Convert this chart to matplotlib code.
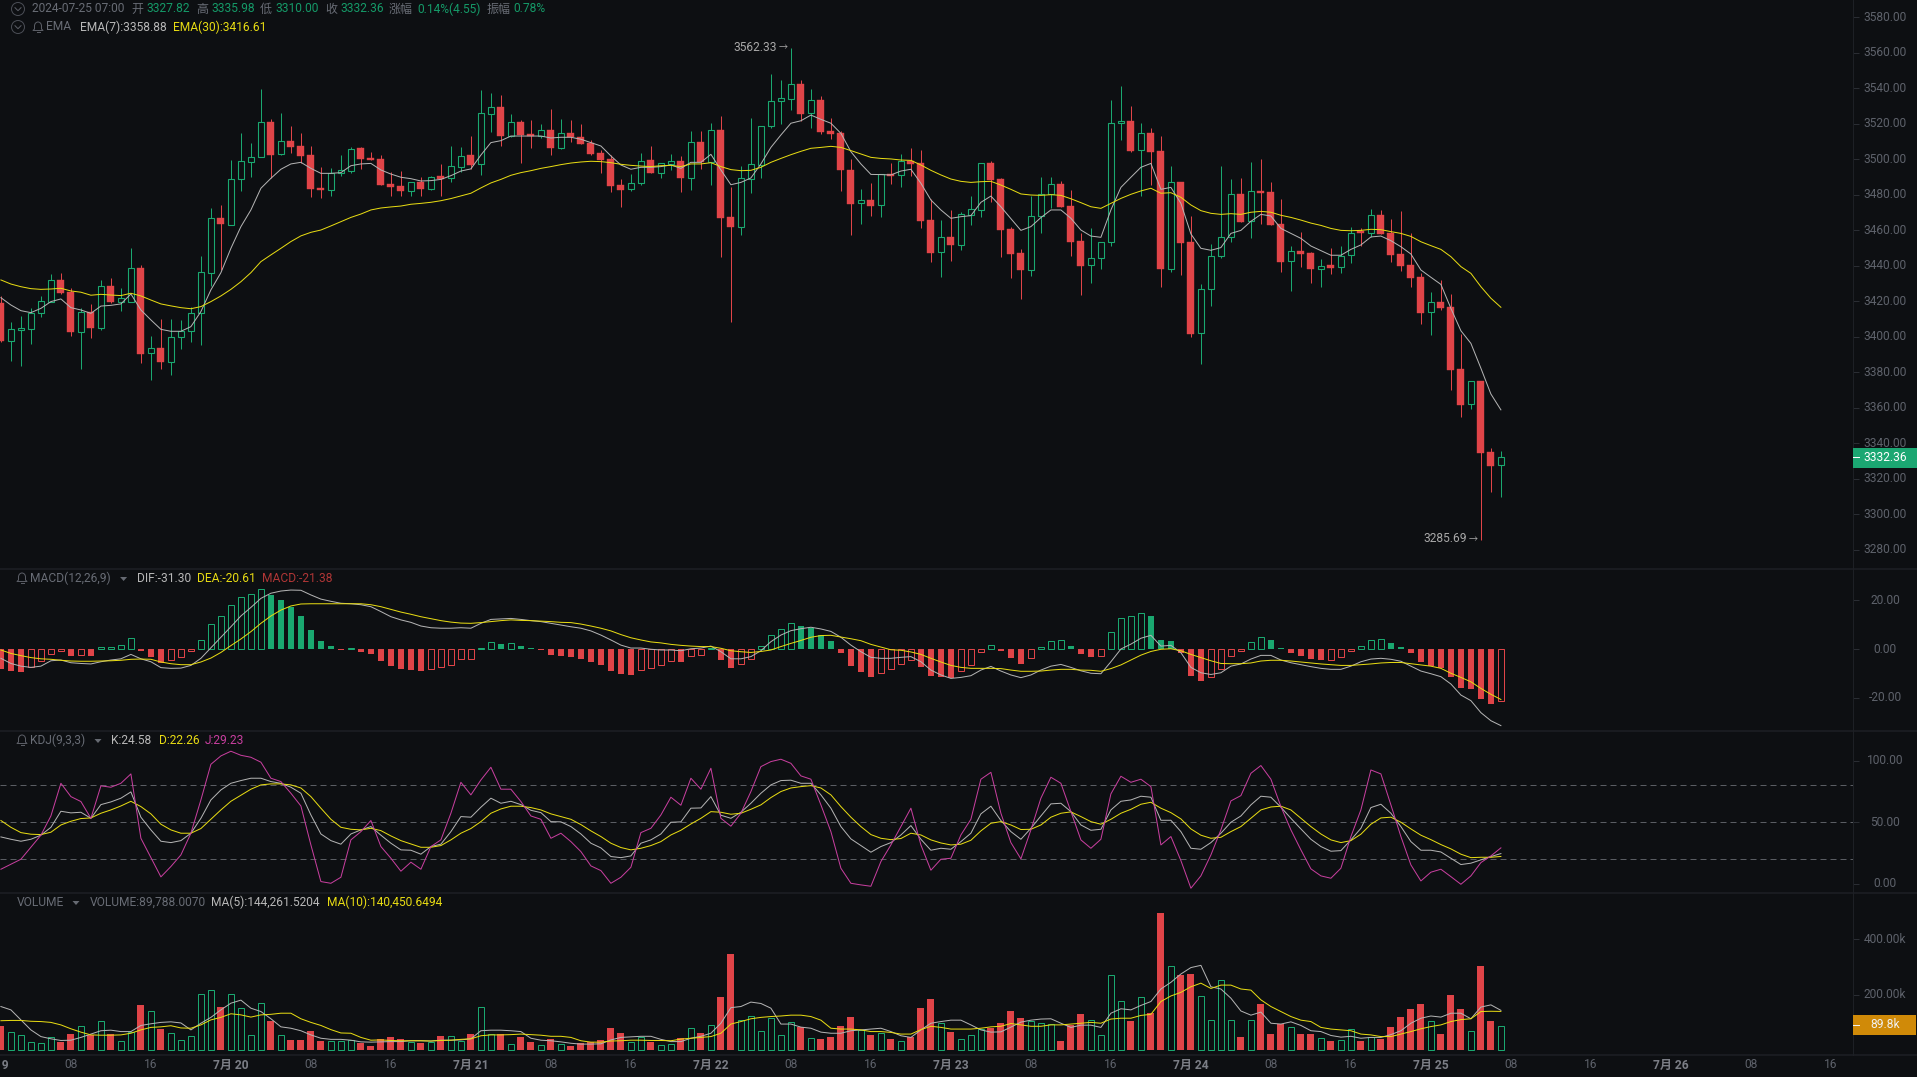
import matplotlib
matplotlib.use("Agg")
import matplotlib.pyplot as plt
from matplotlib.patches import Circle, Rectangle, Polygon, Arc
from matplotlib.transforms import ScaledTranslation
import numpy as np

plt.rcParams['font.family'] = ['Roboto', 'Noto Sans CJK SC', 'DejaVu Sans']

open_ = [3419.2,3397.8,3404.0,3404.2,3413.2,3419.8,3432.0,3425.4,3402.9,3413.8,
3405.2,3428.6,3419.8,3419.8,3438.7,3390.7,3393.5,3386.0,3399.7,3403.1,
3413.2,3436.1,3466.9,3463.1,3488.6,3498.6,3501.0,3520.9,3502.7,3510.2,
3507.4,3502.3,3483.6,3482.8,3492.0,3493.5,3506.3,3500.5,3500.1,3486.0,
3484.9,3482.3,3487.3,3483.4,3490.5,3489.2,3495.8,3502.3,3497.1,3525.6,
3529.3,3513.2,3520.9,3514.2,3512.8,3516.4,3506.5,3514.5,3512.5,3508.9,
3503.5,3499.9,3485.3,3483.0,3486.4,3499.5,3492.4,3497.4,3498.9,3489.6,
3509.6,3498.6,3516.4,3467.4,3462.0,3489.0,3496.9,3518.8,3532.5,3534.0,
3542.3,3525.8,3533.3,3515.8,3514.7,3493.9,3475.1,3477.0,3474.0,3491.6,
3490.9,3499.1,3497.6,3465.7,3447.5,3456.2,3451.9,3468.7,3471.6,3497.8,
3488.8,3460.7,3447.2,3437.8,3467.8,3480.2,3486.0,3473.6,3453.9,3440.2,
3444.2,3453.2,3520.2,3521.5,3505.0,3514.7,3504.6,3438.4,3487.1,3453.4,
3402.0,3426.7,3445.3,3456.0,3480.4,3465.0,3482.1,3481.5,3463.5,3442.5,
3448.3,3447.2,3438.4,3440.4,3439.1,3445.9,3459.5,3458.6,3468.5,3458.4,
3446.6,3440.4,3433.7,3413.8,3419.6,3416.8,3381.9,3362.0,3375.1,3335.2,3327.82]
close = [3397.8,3404.2,3404.8,3413.6,3420.0,3431.8,3424.5,3402.9,3413.8,3405.0,
3428.4,3419.6,3422.0,3438.6,3390.3,3393.5,3385.8,3399.7,3403.3,3413.2,
3436.3,3466.7,3463.7,3488.6,3498.8,3501.0,3520.7,3502.5,3510.0,3507.0,
3502.0,3483.2,3482.8,3492.2,3493.7,3505.9,3500.1,3499.7,3485.5,3484.5,
3482.1,3487.0,3483.2,3490.1,3488.6,3496.0,3501.6,3496.7,3525.8,3529.2,
3513.2,3520.7,3513.6,3512.8,3516.2,3506.5,3514.5,3512.3,3508.7,3502.9,
3499.5,3485.1,3482.6,3486.4,3499.1,3492.2,3497.6,3498.8,3489.4,3509.4,
3498.2,3516.2,3466.9,3461.8,3489.2,3497.1,3518.8,3532.5,3534.2,3542.1,
3525.6,3533.1,3515.5,3514.1,3494.1,3474.9,3476.8,3473.8,3491.4,3490.7,
3498.8,3497.4,3465.2,3447.4,3456.0,3451.7,3468.9,3471.7,3497.6,3488.4,
3460.3,3446.8,3437.6,3467.8,3480.2,3485.8,3473.1,3453.5,3440.0,3444.2,
3453.2,3520.2,3521.3,3504.8,3514.5,3504.2,3438.4,3487.0,3453.0,3401.8,
3426.7,3445.3,3456.0,3480.2,3464.8,3481.9,3481.0,3463.1,3442.3,3448.1,
3446.8,3438.4,3440.0,3438.9,3445.7,3458.6,3458.4,3468.4,3458.1,3446.0,
3440.0,3433.1,3413.6,3419.4,3416.2,3381.5,3361.6,3374.9,3334.8,3327.3,3332.36]
high = [3423.0,3408.5,3411.7,3416.0,3423.0,3435.4,3436.1,3427.3,3416.0,3418.5,
3432.0,3432.9,3427.3,3449.8,3440.2,3400.5,3410.0,3409.8,3409.5,3416.6,
3445.5,3472.3,3474.2,3499.5,3514.7,3508.9,3539.7,3522.4,3525.8,3518.7,
3514.7,3507.4,3495.8,3494.8,3502.3,3507.0,3507.0,3504.0,3502.5,3492.8,
3493.5,3487.3,3489.8,3490.5,3497.3,3507.4,3506.6,3513.0,3538.9,3537.0,
3536.1,3525.4,3522.0,3522.0,3519.8,3528.4,3522.4,3522.0,3519.8,3510.8,
3505.2,3502.3,3488.6,3491.6,3503.3,3507.2,3497.6,3502.9,3501.8,3515.8,
3515.8,3520.2,3524.3,3484.5,3496.1,3523.0,3518.8,3548.1,3544.5,3562.33,
3544.5,3539.3,3535.5,3523.0,3515.8,3500.1,3483.4,3486.8,3491.4,3498.0,
3502.9,3506.3,3505.2,3477.4,3465.7,3471.4,3470.4,3479.2,3497.6,3499.0,
3489.2,3461.6,3449.4,3479.4,3489.8,3490.1,3487.7,3482.6,3458.6,3461.0,
3453.2,3533.3,3541.2,3529.9,3520.5,3517.3,3513.0,3496.1,3487.1,3468.2,
3429.5,3452.2,3496.1,3488.8,3489.4,3498.2,3500.1,3486.9,3477.4,3451.1,
3459.2,3447.9,3443.8,3450.0,3450.9,3461.8,3461.2,3471.7,3471.4,3466.1,
3471.0,3458.2,3436.1,3425.2,3432.0,3424.1,3401.4,3375.3,3375.1,3337.4,3335.98]
low = [3397.3,3386.6,3383.6,3396.0,3411.3,3419.8,3424.1,3400.5,3381.9,3399.5,
3403.8,3419.2,3414.7,3419.8,3385.1,3375.7,3381.9,3378.5,3393.2,3397.3,
3395.4,3428.6,3437.6,3463.1,3482.3,3490.1,3501.0,3489.2,3502.5,3503.5,
3497.6,3478.5,3478.3,3479.3,3490.5,3492.0,3494.5,3499.5,3485.3,3479.4,
3479.3,3479.3,3479.4,3482.6,3479.3,3487.3,3493.0,3494.3,3491.1,3515.5,
3507.4,3512.6,3497.6,3506.5,3511.7,3502.3,3505.9,3509.8,3508.3,3502.3,
3492.4,3481.7,3472.9,3481.9,3485.3,3492.2,3489.2,3493.9,3481.3,3482.6,
3494.3,3485.2,3445.1,3408.5,3457.3,3481.1,3489.2,3517.3,3519.8,3527.7,
3521.7,3517.7,3513.9,3511.1,3482.3,3457.5,3463.3,3468.2,3467.2,3486.0,
3484.5,3490.5,3461.3,3442.3,3433.5,3442.9,3448.9,3462.7,3467.2,3475.9,
3445.1,3433.3,3421.5,3434.4,3458.2,3472.3,3473.1,3445.5,3423.5,3430.5,
3438.4,3451.3,3510.8,3504.2,3479.4,3485.2,3428.0,3436.3,3434.8,3400.1,
3384.7,3417.3,3444.2,3453.4,3464.4,3455.8,3463.3,3462.9,3436.5,3426.0,
3439.1,3430.5,3428.2,3435.5,3435.7,3441.5,3451.3,3456.4,3457.9,3442.1,
3437.2,3428.0,3407.2,3401.0,3415.1,3370.1,3355.0,3359.4,3285.69,3312.5,3310.00]
ema7 = [3422.0,3417.9,3414.7,3413.6,3416.0,3419.8,3421.3,3416.4,3415.1,3413.2,
3417.3,3417.7,3418.5,3424.1,3415.1,3409.5,3404.2,3403.1,3403.1,3405.7,
3414.2,3426.4,3436.1,3449.8,3462.0,3471.4,3483.6,3489.2,3494.3,3497.3,
3498.2,3494.8,3492.0,3492.0,3492.4,3496.3,3497.3,3497.6,3493.9,3491.6,
3489.8,3489.0,3487.7,3487.9,3488.6,3490.7,3493.3,3494.5,3502.3,3509.3,
3510.4,3513.0,3513.0,3513.0,3513.0,3511.9,3512.3,3512.3,3511.2,3509.3,
3507.4,3501.8,3496.7,3494.3,3495.4,3495.4,3495.8,3496.7,3494.8,3498.2,
3498.2,3502.7,3493.9,3485.6,3486.9,3489.4,3497.3,3506.6,3513.6,3520.2,
3521.6,3524.8,3522.4,3520.2,3514.5,3504.2,3497.3,3491.4,3491.3,3491.1,
3493.3,3494.3,3486.4,3477.0,3471.4,3466.7,3467.6,3468.2,3475.7,3479.2,
3473.2,3466.5,3459.9,3462.0,3467.1,3471.4,3471.4,3466.7,3460.1,3456.7,
3456.0,3471.4,3484.1,3489.8,3495.4,3497.6,3483.0,3484.1,3475.1,3457.9,
3449.8,3448.7,3450.2,3458.2,3459.9,3465.0,3468.9,3468.0,3461.0,3458.2,
3455.4,3451.1,3448.5,3445.9,3445.9,3449.2,3451.7,3456.2,3456.7,3454.1,
3450.7,3446.6,3437.6,3433.5,3429.5,3416.0,3403.4,3396.3,3382.3,3367.8,3358.88]
ema30 = [3432.0,3429.7,3428.2,3427.1,3426.7,3426.9,3427.3,3425.8,3425.1,3423.4,
3423.9,3423.5,3423.2,3424.5,3423.0,3420.7,3418.5,3417.4,3416.4,3415.8,
3417.0,3419.8,3423.0,3426.7,3431.0,3436.1,3442.3,3446.1,3449.8,3453.6,
3456.8,3458.8,3460.1,3462.4,3464.8,3467.2,3469.1,3471.4,3472.5,3473.1,
3473.6,3474.6,3475.1,3475.7,3476.6,3477.8,3479.3,3480.8,3483.8,3486.6,
3488.6,3490.9,3492.4,3493.5,3494.8,3495.8,3496.9,3497.8,3498.4,3498.8,
3498.6,3498.0,3497.1,3496.5,3496.1,3495.8,3496.3,3496.5,3495.8,3497.3,
3497.3,3498.0,3495.8,3494.1,3493.5,3493.7,3495.4,3498.2,3500.4,3502.5,
3504.4,3506.1,3506.6,3507.2,3506.6,3504.8,3502.9,3501.0,3500.4,3500.1,
3499.5,3499.3,3496.7,3493.7,3491.1,3488.8,3487.5,3486.9,3487.3,3487.5,
3485.4,3483.0,3480.4,3479.8,3479.6,3480.0,3479.6,3477.7,3475.5,3473.2,
3472.3,3475.1,3477.9,3480.2,3482.1,3483.6,3480.8,3481.1,3478.5,3474.2,
3471.0,3469.5,3468.9,3469.3,3468.9,3470.1,3470.6,3470.1,3468.4,3467.2,
3465.7,3464.0,3462.7,3461.0,3459.9,3459.7,3459.9,3460.5,3460.3,3459.2,
3458.2,3456.5,3453.5,3451.3,3449.2,3445.1,3439.5,3435.7,3428.2,3421.7,3416.61]
macd = [-8.2,-8.9,-9.4,-7.5,-5.0,-1.9,-0.7,-2.9,-2.3,-2.9,
0.7,0.7,1.5,4.4,-0.7,-3.1,-5.6,-4.6,-3.4,-1.0,
3.5,10.1,13.4,17.9,21.1,22.4,24.4,22.1,20.0,17.0,
13.5,7.8,3.3,1.2,-0.5,0.5,-1.1,-1.9,-4.9,-7.0,
-8.2,-8.6,-8.9,-8.2,-7.5,-6.5,-4.2,-4.0,0.3,2.7,
2.0,2.3,1.2,0.3,-0.6,-2.5,-2.9,-3.3,-4.2,-5.3,
-6.5,-9.0,-10.2,-10.6,-8.5,-7.9,-6.7,-4.9,-5.2,-2.9,
-2.3,0.3,-4.5,-7.8,-6.0,-4.2,1.2,5.6,8.0,10.5,
9.4,8.6,5.7,3.3,-1.6,-6.8,-9.4,-11.4,-9.7,-8.0,
-6.0,-4.5,-7.2,-11.0,-11.4,-12.0,-8.9,-6.4,-1.1,1.5,
-0.8,-3.7,-6.1,-3.5,0.7,3.1,3.5,1.1,-2.0,-3.3,
-2.7,6.8,12.5,13.4,14.6,13.5,3.7,3.3,-1.5,-11.0,
-13.1,-11.3,-8.2,-2.7,-0.8,2.7,4.8,3.7,0.4,-1.6,
-2.9,-4.1,-4.5,-4.5,-3.4,-0.8,1.1,3.5,4.0,2.5,
0.7,-1.6,-5.3,-6.8,-7.6,-11.4,-15.9,-16.4,-20.4,-22.5,-21.38]
dif = [-3.8,-5.9,-7.0,-7.5,-7.0,-4.8,-4.5,-5.6,-5.9,-6.1,
-5.2,-4.5,-4.0,-2.2,-4.0,-5.2,-7.6,-7.9,-7.8,-6.7,
-3.8,0.5,4.8,9.1,13.5,17.0,20.7,22.8,23.7,24.1,
24.0,22.1,20.4,19.5,18.7,18.5,18.1,17.3,15.3,13.2,
11.9,10.9,9.4,8.7,8.5,8.5,8.7,8.5,10.5,12.1,
12.3,12.5,12.1,11.6,11.2,10.5,9.8,9.1,8.5,7.4,
5.7,3.7,1.6,0.4,0.4,-0.1,-0.4,-0.4,-0.7,0.1,
0.4,1.2,-1.1,-4.0,-4.0,-3.1,
-0.7,3.0,5.7,7.5,8.3,8.9,8.2,7.2,4.8,1.6,
-1.1,-3.4,-3.8,-3.8,-3.4,-3.1,-5.2,-8.6,-10.6,-12.0,
-11.6,-10.9,-8.6,-7.1,-9.0,-10.6,-11.7,-10.6,-8.6,-7.0,
-6.3,-7.5,-8.9,-9.9,-10.1,-5.2,0.0,2.0,4.4,5.6,
1.2,1.5,-1.5,-7.5,-9.7,-10.4,-9.7,-7.0,-6.1,-4.1,
-2.6,-2.6,-4.5,-5.6,-6.4,-7.2,-7.9,-8.3,-8.3,-7.0,
-5.2,-4.1,-3.8,-4.2,-5.0,-7.0,-9.0,-10.1,-11.3,-14.3,
-18.8,-21.1,-26.0,-29.3,-31.30]
dea = [-0.4,-1.8,-2.7,-3.5,-4.0,-4.2,-4.6,-4.9,-5.0,-5.0,
-4.9,-4.8,-4.6,-4.2,-4.1,-4.2,-5.3,-6.0,-6.4,-6.4,
-5.3,-3.7,-1.4,1.4,4.1,7.1,10.5,13.5,15.9,17.6,
18.4,18.5,18.5,18.5,18.5,18.5,18.5,18.1,17.3,16.2,
15.1,14.2,13.2,12.4,11.6,11.0,10.6,10.5,10.8,11.2,
11.6,11.9,11.7,11.6,11.4,11.2,10.9,10.8,10.2,9.4,
8.5,7.4,5.9,4.6,3.7,2.9,2.5,1.9,1.5,1.2,
1.0,1.0,0.3,-0.7,-1.1,-1.4,
-1.0,-0.4,1.0,2.3,3.5,4.8,5.5,5.6,4.9,4.2,
3.4,1.9,0.8,-0.3,-0.5,-1.2,-2.2,-3.8,-5.3,-6.7,
-7.5,-7.9,-7.9,-7.9,-8.0,-8.6,-9.1,-9.1,-9.0,-8.6,
-8.3,-8.3,-8.6,-8.7,-9.1,-8.0,-6.5,-4.5,-2.5,-1.0,
-0.1,0.1,-0.7,-2.2,-3.5,-4.8,-5.9,-6.0,-6.0,-5.7,
-4.9,-4.6,-4.6,-4.9,-5.3,-5.7,-6.1,-6.4,-6.7,-6.7,
-6.4,-6.1,-5.7,-5.5,-5.5,-6.0,-6.5,-7.0,-7.9,-9.9,
-11.6,-13.4,-16.1,-18.5,-20.61]
kdj_k = [38.1,36.2,34.6,36.2,39.5,45.9,58.9,57.6,58.1,53.2,
64.3,66.5,69.5,74.6,54.1,43.8,34.6,33.5,35.1,41.1,
53.2,68.1,76.2,81.6,83.8,85.7,85.7,83.0,81.6,78.4,
73.5,55.9,40.5,35.1,32.2,40.5,43.8,46.5,39.5,33.0,
27.6,27.3,24.1,30.3,32.2,42.4,54.6,54.1,62.2,69.5,
65.4,67.0,64.3,59.7,57.8,50.5,50.3,46.5,40.5,33.0,
29.2,22.2,21.3,22.7,33.0,35.7,40.5,50.0,50.3,61.4,
61.6,70.8,55.7,53.2,58.1,65.4,
73.5,80.3,83.8,84.1,81.6,81.6,72.2,61.4,46.5,36.5,
31.1,25.7,30.3,33.5,39.7,47.3,36.2,27.3,28.9,28.1,
34.3,41.1,56.8,63.0,51.4,42.4,36.2,45.1,55.1,64.9,
65.4,58.6,47.8,43.5,44.3,60.0,67.0,68.1,71.1,70.3,
51.6,51.6,42.4,28.9,28.1,33.5,41.1,50.0,55.1,64.1,
71.1,70.3,62.2,53.2,44.6,36.2,30.3,26.5,27.0,35.7,
45.1,61.9,64.6,57.3,46.5,34.3,27.3,27.3,25.9,20.8,
15.7,16.8,19.5,22.2,24.58]
kdj_d = [51.4,45.9,41.6,40.3,40.0,41.9,47.8,50.8,53.0,53.5,
57.3,60.0,63.2,67.0,62.7,56.8,48.4,43.8,41.1,41.1,
44.9,52.4,60.0,67.0,71.9,76.8,80.3,81.1,81.1,80.3,
77.8,70.8,61.4,52.4,45.9,44.3,43.8,45.1,43.2,38.9,
35.1,32.4,29.7,29.7,31.1,35.7,41.1,44.9,50.5,57.3,
60.8,63.0,63.0,61.9,60.0,56.8,54.6,52.4,48.1,43.0,
38.4,33.0,29.5,27.6,28.9,31.1,34.3,39.7,43.5,48.6,
53.2,58.6,58.1,56.5,57.3,60.5,
64.1,70.0,74.9,77.8,78.9,79.7,77.8,72.2,62.7,54.1,
46.5,40.0,37.0,35.9,36.8,41.1,39.7,35.7,33.2,31.6,
32.2,35.4,43.0,49.2,50.5,47.8,44.1,44.3,47.8,54.1,
57.3,58.4,54.6,50.5,48.4,52.4,57.3,60.5,64.6,66.2,
61.4,57.8,52.7,44.6,39.5,37.0,37.8,42.4,46.5,53.2,
60.0,62.4,63.0,60.0,53.2,46.5,40.5,35.7,33.5,35.1,
40.3,48.4,53.5,54.1,50.0,44.6,39.5,35.9,31.9,28.4,
24.1,21.3,21.6,21.6,22.26]
kdj_j = [11.9,15.9,20.0,29.7,39.5,55.1,81.6,70.8,66.8,53.2,
79.5,78.4,81.6,89.2,37.0,21.3,5.7,14.1,23.5,41.1,
68.1,97.0,103.8,107.6,104.3,102.7,98.7,85.7,83.0,73.5,
63.2,31.6,1.9,0.5,5.4,35.7,42.4,51.4,30.3,20.8,
10.3,17.6,11.9,30.3,35.7,57.3,82.4,72.2,84.3,94.6,
76.8,76.8,66.8,55.1,52.4,37.0,41.1,34.3,26.2,14.6,
10.8,0.5,5.4,13.5,41.6,45.1,55.9,70.3,63.8,85.7,
76.8,93.8,53.2,46.8,57.3,74.9,
95.1,99.2,101.1,97.8,87.6,84.9,64.1,42.4,12.7,0.5,
-0.8,-1.9,18.1,31.6,46.5,61.4,31.6,11.1,20.0,20.8,
39.7,52.4,84.9,90.5,57.3,33.5,20.3,43.8,69.5,86.5,
81.6,58.6,35.7,28.9,36.2,73.0,87.3,82.4,84.9,78.9,
31.6,38.4,18.9,-3.5,6.5,23.5,43.8,67.3,71.6,89.7,
96.0,84.9,62.7,43.8,27.6,12.2,6.5,4.6,12.7,38.4,
60.0,92.4,89.2,64.1,38.4,15.4,2.4,9.5,11.9,5.9,
-0.3,6.5,17.3,22.7,29.23]
volume_k = [88.6,65.8,55,30,26,49,31,60,87,56,
105,59,34,68,164,141,78,62,37,51,
202,217,157,202,152,56,170,107,55,38,
38,71,35,34,34,37,28,17,42,49,
42,32,28,29,53,51,35,60,156,59,
59,23,49,31,19,42,23,17,26,30,
38,81,63,29,50,31,18,23,45,80,
63,91,193,347,109,123,71,116,55,102,
84,44,42,49,89,121,75,56,62,42,
34,47,153,186,98,67,41,55,77,81,
99,142,117,107,98,95,35,92,132,109,
55,271,177,107,192,135,494,303,272,275,
195,109,253,109,49,109,168,60,95,84,
60,60,44,35,37,77,35,50,42,85,
121,150,168,105,60,200,150,69,304,107,89.788]
ma5_k = [158,146,110,74,50,42,36,37,47,59,
71,73,68,68,90,96,101,103,99,74,
98,119,146,170,181,152,140,114,85,80,
71,56,44,40,40,37,31,30,31,32,
32,35,35,34,37,37,38,42,71,73,
73,71,68,44,37,35,31,26,23,23,
24,38,47,49,51,51,40,32,32,44,
51,62,98,154,158,174,
169,152,95,95,84,80,66,62,62,71,
74,77,80,68,53,47,74,98,104,109,
109,92,74,66,67,84,102,109,113,114,
98,83,91,91,83,134,150,146,162,176,
221,245,275,298,306,229,221,188,142,127,
138,98,95,103,90,71,68,54,48,51,
44,47,47,57,71,98,116,124,120,134,
134,114,156,164,144.26]
ma10_k = [107,108,108,105,104,101,92,78,66,56,
55,55,56,62,74,83,85,89,81,80,
92,110,119,132,128,120,128,130,134,134,
114,101,90,75,63,62,47,37,38,36,
35,35,35,34,36,37,40,42,53,56,
56,57,59,57,55,51,51,47,35,30,
30,34,35,37,37,36,36,35,41,44,
47,50,62,95,104,114,
119,122,124,127,127,122,109,80,77,77,
74,68,68,65,59,59,75,87,83,77,
77,77,80,85,87,97,92,87,87,92,
92,95,98,101,98,113,116,116,126,130,
176,196,209,229,242,223,235,235,221,217,
182,158,140,122,109,104,83,77,74,71,
59,56,50,50,59,68,78,86,92,104,
111,114,140,141,140.45]
price_ticks = [3280,3300,3320,3340,3360,3380,3400,3420,3440,3460,3480,3500,3520,3540,3560,3580]
macd_ticks = [-20,0,20]
kdj_ticks = [0,50,100]
kdj_levels = [20,50,80]
vol_ticks_k = [200,400]
time_pos = [-1,7,15,23,31,39,47,55,63,71,79,87,95,103,111,119,127,135,143,151,159,167,175,183]
time_labels = ['7月 19','08','16','7月 20','08','16','7月 21','08','16','7月 22','08','16',
               '7月 23','08','16','7月 24','08','16','7月 25','08','16','7月 26','08','16']

BG='#0d0f12'; GREEN='#1aa870'; RED='#e04448'; YEL='#e8dc12'; WHITE='#b4b4b4'; MAG='#c83f9f'
GRID='#1d2025'; TICK='#5e626b'
W,H=1917,1077
PX=72/100
FS=12*PX

fig=plt.figure(figsize=(W/100,H/100),dpi=100,facecolor=BG)
RIGHT=1853
X0=0.9
XLIM=(-X0/10,(RIGHT-X0)/10)
label_up=ScaledTranslation(0,1.5/100,fig.dpi_scale_trans)
def panel(top,bot):
    ax=fig.add_axes([0,1-bot/H,RIGHT/W,(bot-top)/H],facecolor=BG)
    ax.set_xlim(*XLIM)
    for s in ax.spines.values(): s.set_visible(False)
    ax.tick_params(axis='x',length=0,labelbottom=False)
    ax.yaxis.tick_right()
    return ax
def yticks(ax,pos,labels):
    ax.set_yticks(pos); ax.set_yticklabels(labels)
    ax.tick_params(axis='y',length=6*PX,width=1*PX,color='#2a2d33',labelcolor=TICK,labelsize=FS,pad=26*PX)
    for t in ax.get_yticklabels():
        t.set_ha('center')
        t.set_transform(t.get_transform()+label_up)

x=np.arange(len(close))
o,c,h,l=map(np.array,(open_,close,high,low))
up=c>=o
colors=np.where(up,GREEN,RED)

# main
ax0=panel(0,569)
ax0.set_ylim(3269.3,3589.57)
yticks(ax0,price_ticks,[f'{v:.2f}' for v in price_ticks])
ax0.vlines(x,l,h,colors=colors,lw=1*PX,zorder=2)
ax0.bar(x[~up],(o-c)[~up],bottom=c[~up],width=0.7,color=RED,edgecolor=RED,linewidth=0.4*PX,zorder=3)
ax0.bar(x[up],(c-o)[up],bottom=o[up],width=0.62,facecolor=BG,edgecolor=GREEN,linewidth=1.1*PX,zorder=3)
ax0.plot(x,ema7,color=WHITE,lw=1*PX,zorder=4)
ax0.plot(x,ema30,color=YEL,lw=1*PX,zorder=4)
ihi=int(np.argmax(h)); ilo=int(np.argmin(l))
for idx,val in ((ihi,h[ihi]),(ilo,l[ilo])):
    ax0.annotate(f'{val:.2f}',xy=(idx,val),xytext=(-14*PX,1*PX),textcoords='offset points',
                 ha='right',va='center',color='#a8a8a8',fontsize=FS)
    ax0.annotate('→',xy=(idx,val),xytext=(-3*PX,0.5*PX),textcoords='offset points',
                 ha='right',va='center',color='#a8a8a8',fontsize=9*PX)

# macd
ax1=panel(569,731)
ax1.set_ylim(-33.5,32.7)
yticks(ax1,macd_ticks,[f'{v:.2f}' for v in macd_ticks])
m=np.array(macd)
prev=np.r_[m[0]+1,m[:-1]]
hollow=m>=prev
mcol=np.where(m>=0,GREEN,RED)
ax1.bar(x[~hollow],m[~hollow],width=0.66,color=mcol[~hollow],linewidth=0,zorder=2)
ax1.bar(x[hollow],m[hollow],width=0.6,facecolor=BG,edgecolor=mcol[hollow],linewidth=1*PX,zorder=2)
ax1.plot(x,dif,color=WHITE,lw=1*PX,zorder=3)
ax1.plot(x,dea,color=YEL,lw=1*PX,zorder=3)

# kdj
ax2=panel(731,893.4)
ax2.set_ylim(-7.7,124.0)
yticks(ax2,kdj_ticks,[f'{v:.2f}' for v in kdj_ticks])
for v_ in kdj_levels:
    ax2.axhline(v_,color='#5a5d63',lw=1*PX,ls=(0,(6,4)),zorder=1)
ax2.plot(x,kdj_k,color=WHITE,lw=1*PX,zorder=3)
ax2.plot(x,kdj_d,color=YEL,lw=1*PX,zorder=3)
ax2.plot(x,kdj_j,color=MAG,lw=1*PX,zorder=3)

# volume
ax3=panel(893.4,1055)
ax3.set_ylim(-16.2,564.6)
yticks(ax3,vol_ticks_k,[f'{v_:.2f}k' for v_ in vol_ticks_k])
v=np.array(volume_k)
ax3.bar(x[~up],v[~up],width=0.7,color=RED,linewidth=0,zorder=2)
ax3.bar(x[up],v[up],width=0.62,facecolor=BG,edgecolor=GREEN,linewidth=1*PX,zorder=2)
ax3.plot(x,ma5_k,color=WHITE,lw=1*PX,zorder=3)
ax3.plot(x,ma10_k,color=YEL,lw=1*PX,zorder=3)
for p,lab in zip(time_pos,time_labels):
    bold='月' in lab
    ax3.annotate(lab,xy=(p,0),xycoords=('data','axes fraction'),xytext=(0,-10*PX),textcoords='offset points',
                 ha='center',va='center',fontsize=FS,color='#7b7e86' if bold else TICK,
                 fontweight='bold' if bold else 'normal',annotation_clip=False)

# chrome overlay in pixel coordinates
ov=fig.add_axes([0,0,1,1]); ov.set_xlim(0,W); ov.set_ylim(H,0); ov.axis('off'); ov.patch.set_visible(False)
for y in (569,731,893.4,1055):
    ov.plot([0,W],[y,y],color=GRID,lw=1.5*PX)
ov.plot([RIGHT,RIGHT],[0,1055],color=GRID,lw=1*PX)

def txt(xp,yp,s,col,**kw):
    ov.text(xp,yp,s,color=col,fontsize=kw.pop('fs',FS),va='center',ha=kw.pop('ha','left'),**kw)
def chevron(cx,cy):
    ov.add_patch(Circle((cx,cy),6.5,fill=False,ec='#4a4d55',lw=1*PX))
    ov.plot([cx-3,cx,cx+3],[cy-1.3,cy+1.7,cy-1.3],color='#5a5d65',lw=1*PX)
def bell(cx,cy):
    ov.add_patch(Arc((cx,cy-1),7,8,theta1=180,theta2=360,ec='#5a5d65',lw=1*PX))
    ov.plot([cx-3.5,cx-3.5,cx-5,cx+5,cx+3.5,cx+3.5],[cy-1,cy+2,cy+3.5,cy+3.5,cy+2,cy-1],color='#5a5d65',lw=1*PX)
    ov.plot([cx-1.5,cx+1.5],[cy+5,cy+5],color='#5a5d65',lw=1*PX)
def tri(cx,cy):
    ov.add_patch(Polygon([(cx-3.5,cy-2),(cx+3.5,cy-2),(cx,cy+2)],closed=True,fc='#666a72',ec='none'))

LBL='#686c75'; G2='#159a68'
chevron(18,9); chevron(18,27)
txt(32,9,'2024-07-25 07:00',LBL)
for xp,s,col in [(131,'开',LBL),(146.5,'3327.82',G2),(196,'高',LBL),(211,'3335.98',G2),(260,'低',LBL),
                 (275.5,'3310.00',G2),(325,'收',LBL),(340,'3332.36',G2),(389,'涨幅',LBL),
                 (417,'0.14%(4.55)',G2),(486.5,'振幅',LBL),(513.5,'0.78%',G2)]:
    txt(xp,9,s,col)
bell(38,27); txt(46,27,'EMA',LBL)
txt(80,27,'EMA(7):3358.88','#b8b8b8'); txt(173,27,'EMA(30):3416.61',YEL)
bell(22,578); txt(30,578,'MACD(12,26,9)',LBL); tri(123.6,579)
txt(137,578,'DIF:-31.30','#b8b8b8'); txt(197,578,'DEA:-20.61',YEL); txt(262,578,'MACD:-21.38','#b03636')
bell(22,740); txt(30,740,'KDJ(9,3,3)',LBL); tri(98,741)
txt(111.5,740,'K:24.58','#b8b8b8'); txt(158.5,740,'D:22.26',YEL); txt(204.5,740,'J:29.23',MAG)
txt(16.5,902,'VOLUME',LBL); tri(76,903); txt(89.7,902,'VOLUME:89,788.0070',LBL)
txt(211,902,'MA(5):144,261.5204','#b8b8b8'); txt(327,902,'MA(10):140,450.6494',YEL)

ov.add_patch(Rectangle((1853,447.5),64,20,fc='#1ba772',ec='none',zorder=5))
txt(1885,457.5,'3332.36','#ffffff',ha='center',zorder=6)
ov.plot([1853,1859],[457,457],color='#ffffff',lw=1*PX,zorder=6)
ov.add_patch(Rectangle((1853,1015),63,20,fc='#d08a08',ec='none',zorder=5))
txt(1885,1025,'89.8k','#f0f0f0',ha='center',zorder=6)
ov.plot([1853,1859],[1025,1025],color='#f0f0f0',lw=1*PX,zorder=6)

fig.savefig('out.png',dpi=100,facecolor=BG)
